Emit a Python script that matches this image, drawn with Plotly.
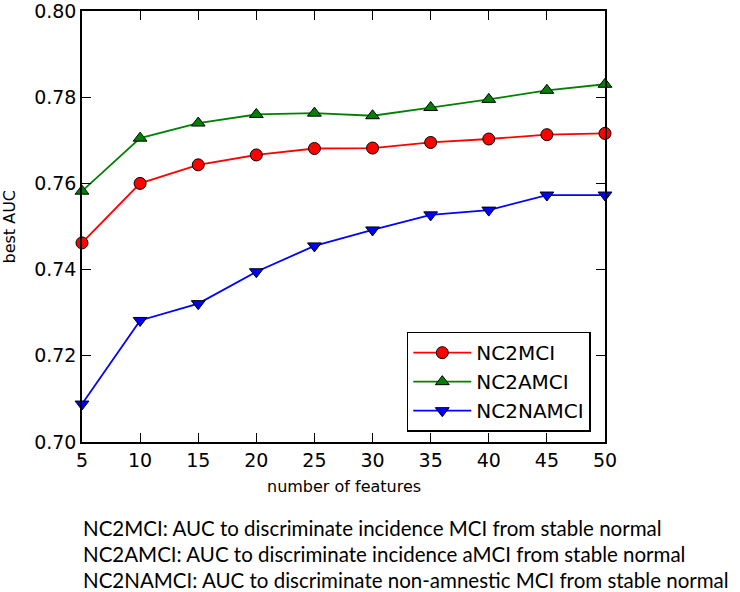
import plotly.graph_objects as go

n_features = [5, 10, 15, 20, 25, 30, 35, 40, 45, 50]
nc2mci = [0.7462, 0.7600, 0.7643, 0.7666, 0.7681, 0.7682, 0.7695, 0.7703, 0.7713, 0.7716]
nc2amci = [0.7582, 0.7705, 0.7740, 0.7760, 0.7763, 0.7757, 0.7776, 0.7795, 0.7816, 0.7830]
nc2namci = [0.7088, 0.7282, 0.7321, 0.7395, 0.7455, 0.7492, 0.7527, 0.7538, 0.7573, 0.7573]

notes = [
    "NC2MCI: AUC to discriminate incidence MCI from stable normal",
    "NC2AMCI: AUC to discriminate incidence aMCI from stable normal",
    "NC2NAMCI: AUC to discriminate non-amnestic MCI from stable normal",
]

series = [
    ("NC2MCI", nc2mci, "#ff0000", "circle", 12),
    ("NC2AMCI", nc2amci, "#008000", "triangle-up", 12),
    ("NC2NAMCI", nc2namci, "#0000ff", "triangle-down", 12),
]

fig = go.Figure()
for name, vals, color, symbol, size in series:
    fig.add_trace(go.Scatter(
        x=n_features, y=vals, name=name, mode="lines+markers",
        line=dict(color=color, width=1.8),
        marker=dict(symbol=symbol, size=size, color=color,
                    line=dict(color="black", width=1)),
        cliponaxis=False,
    ))

axis_style = dict(
    showline=True, linecolor="black", linewidth=1.5, mirror="ticks",
    ticks="inside", ticklen=9, tickwidth=1, tickcolor="black",
    showgrid=False, zeroline=False, automargin=False,
    ticklabeloverflow="allow",
    tickfont=dict(family="DejaVu Sans", size=19, color="black"),
)

fig.update_xaxes(range=[5, 50], tickvals=n_features, **axis_style)
fig.update_yaxes(range=[0.70, 0.80], tickvals=[0.70, 0.72, 0.74, 0.76, 0.78, 0.80],
                 tickformat=".2f", **axis_style)

# axis titles
fig.add_annotation(text="number of features", xref="paper", yref="paper",
                   x=0.5, y=-0.104, xanchor="center", yanchor="middle", showarrow=False,
                   font=dict(family="DejaVu Sans", size=16, color="black"))
fig.add_annotation(text="best AUC", xref="paper", yref="paper", textangle=-90,
                   x=-0.1377, y=0.5, xanchor="center", yanchor="middle", showarrow=False,
                   font=dict(family="DejaVu Sans", size=16, color="black"))

# explanatory notes under the chart
for i, text in enumerate(notes):
    fig.add_annotation(
        text=text, xref="paper", yref="paper",
        x=-0.002, y=-0.2 - i * 0.06, xanchor="left", yanchor="middle",
        showarrow=False,
        font=dict(family="Lato", size=20.5, color="black"),
    )

fig.update_layout(
    width=740, height=592,
    margin=dict(l=82, r=135, t=11, b=150),
    plot_bgcolor="white", paper_bgcolor="white",
    legend=dict(
        x=0.621, y=0.256, xanchor="left", yanchor="top",
        bordercolor="black", borderwidth=1.5, bgcolor="white",
        font=dict(family="DejaVu Sans", size=20, color="black"),
        itemwidth=58,
    ),
)

fig.write_html("out.html", config={"displayModeBar": False},
               post_script="document.body.style.margin = '0';")
